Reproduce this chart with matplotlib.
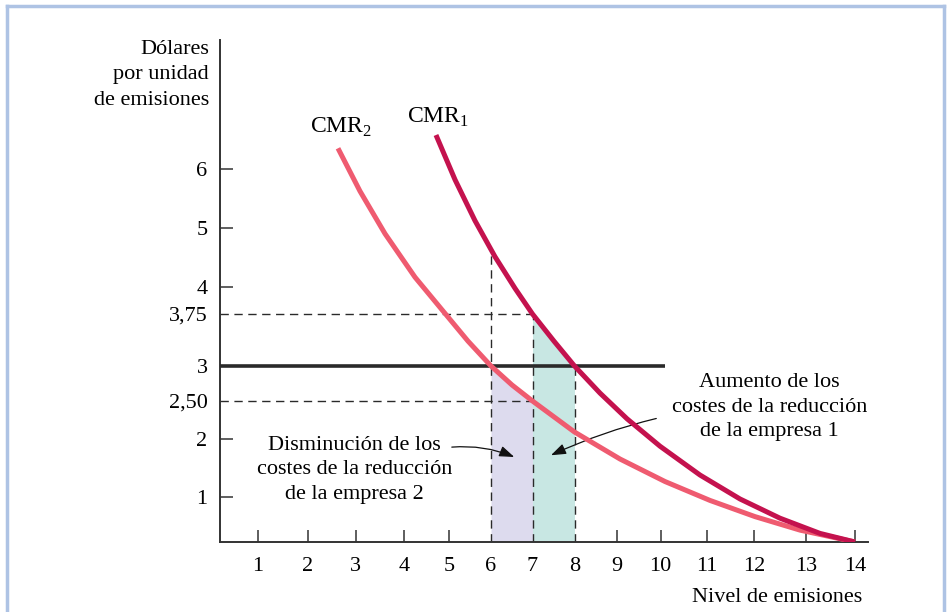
import numpy as np
import matplotlib
import matplotlib.pyplot as plt
from matplotlib.lines import Line2D

matplotlib.use('agg')

# curve data (emission level, $ per unit)
x_cmr1 = [4.706, 5.137, 5.616, 6.096, 6.578, 7.0, 7.512, 8.0, 8.607, 9.238, 9.984, 10.854, 11.70, 12.497, 13.286, 14.0]
y_cmr1 = [6.576, 5.819, 5.124, 4.514, 3.988, 3.75, 3.358, 3.0, 2.613, 2.266, 1.876, 1.379, 0.956, 0.529, 0.191, 0.0]
x_cmr2 = [2.631, 3.089, 3.607, 4.243, 4.916, 5.448, 6.0, 6.506, 7.0, 8.0, 9.079, 10.093, 11.069, 12.014, 12.884, 14.0]
y_cmr2 = [6.351, 5.624, 4.903, 4.166, 3.75, 3.359, 3.0, 2.729, 2.5, 2.092, 1.655, 1.267, 0.924, 0.564, 0.264, 0.0]

tasa = 3.0            # emission fee
tasa_fin = 10.1
guia_x = [6, 7, 8]           # vertical dashed guides
guia_top = [4.6, 3.75, 3.0]
guia_h = [3.75, 2.50]        # horizontal dashed guides, end at x = 7
guia_h_fin = 7

xticks = list(range(1, 15))
yticks = [1, 2, 2.5, 3, 3.75, 4, 5, 6]
ylabels = ['1', '2', '2,50', '3', '3,75', '4', '5', '6']

# the printed axes are not evenly spaced: anchor values to their drawn positions
X_VAL = np.arange(0, 16)
X_POS = np.array([213, 257.7, 307.7, 355.7, 404, 449.3, 491, 532.5, 574.5,
                  616.5, 660.7, 706.7, 754.3, 806, 855, 904])
Y_VAL = np.array([0, 1, 2, 2.5, 3, 3.75, 4, 5, 6, 7, 8, 9])
Y_POS = np.array([542, 497, 439, 401, 366, 314, 287, 228, 169, 110, 51, -8])

def xf(v):
    return np.interp(v, X_VAL, X_POS)

def xi(p):
    return np.interp(p, X_POS, X_VAL)

def yf(v):
    return -np.interp(v, Y_VAL, Y_POS)

def yi(p):
    return np.interp(-p, Y_POS[::-1], Y_VAL[::-1])

plt.rcParams['font.family'] = 'Liberation Serif'
plt.rcParams['mathtext.fontset'] = 'custom'
plt.rcParams['mathtext.rm'] = 'Liberation Serif'
plt.rcParams['font.size'] = 16

W, H = 949, 612
fig = plt.figure(figsize=(W / 100, H / 100), dpi=100)
ax = fig.add_axes([220 / W, 1 - 542 / H, 648 / W, 502 / H])
ax.set_xscale('function', functions=(xf, xi))
ax.set_yscale('function', functions=(yf, yi))
ax.set_xlim(xi(220), xi(868))
ax.set_ylim(0, yi(-40))

c1 = '#c4124e'
c2 = '#ef5b70'
dark = '#2a2a2a'

x1 = np.array(x_cmr1)
x2 = np.array(x_cmr2)
ax.fill_between(x2, 0, y_cmr2, where=(x2 >= 6) & (x2 <= 7), color='#dddbee', lw=0, zorder=1)
ax.fill_between(x1, 0, y_cmr1, where=(x1 >= 7) & (x1 <= 8), color='#c8e7e3', lw=0, zorder=1)

x0 = ax.get_xlim()[0]
for gx, gt in zip(guia_x, guia_top):
    ax.plot([gx, gx], [0, gt], color=dark, lw=1.0, dashes=(6, 4), zorder=2)
for gy in guia_h:
    ax.plot([x0, guia_h_fin], [gy, gy], color=dark, lw=1.0, dashes=(6, 4), zorder=2)

ax.plot([x0, tasa_fin], [tasa, tasa], color=dark, lw=2.6, solid_capstyle='butt', zorder=3)
ax.plot(x_cmr2, y_cmr2, color=c2, lw=3.6, solid_capstyle='butt', solid_joinstyle='round', zorder=4)
ax.plot(x_cmr1, y_cmr1, color=c1, lw=3.6, solid_capstyle='butt', solid_joinstyle='round', zorder=5)

ax.text(2.69, 6.71, 'CMR$_2$', ha='center', va='center', fontsize=17)
ax.text(4.75, 6.88, 'CMR$_1$', ha='center', va='center', fontsize=17)

ax.text(2.98, 1.47, 'Disminución de los\ncostes de la reducción\nde la empresa 2',
        ha='center', va='center', multialignment='center', linespacing=1.4)
ax.text(12.30, 2.42, 'Aumento de los\ncostes de la reducción\nde la empresa 1',
        ha='center', va='center', multialignment='center', linespacing=1.4)
arrow = dict(arrowstyle='-|>,head_length=0.5,head_width=0.18', color='#111111', lw=0.9,
             mutation_scale=18, shrinkA=0, shrinkB=0)
ax.annotate('', xy=(6.56, 1.69), xytext=(5.06, 1.86),
            arrowprops=dict(arrow, connectionstyle='arc3,rad=-0.12'))
ax.annotate('', xy=(7.44, 1.72), xytext=(9.90, 2.27),
            arrowprops=dict(arrow, connectionstyle='arc3,rad=0.05'))

# axes
for s in ['top', 'right']:
    ax.spines[s].set_visible(False)
for s in ['left', 'bottom']:
    ax.spines[s].set_linewidth(1.4)
    ax.spines[s].set_color('#333333')
ax.set_xticks(xticks)
ax.set_xticklabels([str(t) for t in xticks])
ax.set_yticks(yticks)
ax.set_yticklabels(ylabels)
ax.minorticks_off()
ax.tick_params(direction='in', length=9, width=1.1, color='#333333', labelsize=16)
ax.tick_params(axis='x', pad=11)
ax.tick_params(axis='y', pad=9)
for t, v in zip(ax.xaxis.get_major_ticks(), xticks):
    if v in guia_x:
        t.tick1line.set_visible(False)
for t, v in zip(ax.yaxis.get_major_ticks(), yticks):
    if v in guia_h or v == tasa:
        t.tick1line.set_visible(False)

fig.text(209 / W, 1 - 75 / H, 'Dólares\npor unidad\nde emisiones', ha='right', va='center',
         multialignment='right', linespacing=1.45)
fig.text(862 / W, 1 - 598 / H, 'Nivel de emisiones', ha='right', va='center')

# light blue frame
fc = '#aec3e4'
fig.add_artist(Line2D([7 / W, 944 / W], [1 - 6 / H, 1 - 6 / H], color=fc, lw=2.5))
fig.add_artist(Line2D([7 / W, 7 / W], [0, 1 - 6 / H], color=fc, lw=2.5))
fig.add_artist(Line2D([944 / W, 944 / W], [0, 1 - 6 / H], color=fc, lw=2.5))

fig.savefig('out.png', dpi=100)
